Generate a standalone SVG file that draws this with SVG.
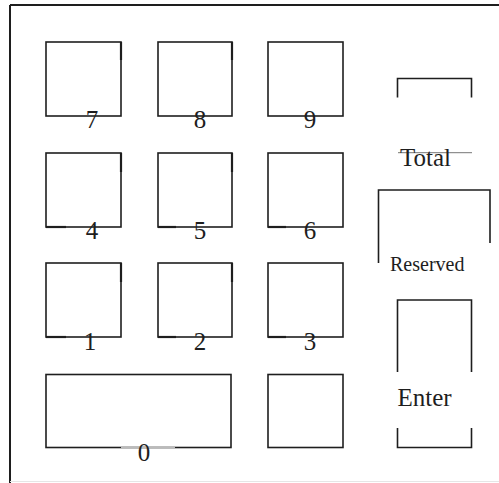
<svg xmlns="http://www.w3.org/2000/svg" width="499" height="483" viewBox="0 0 499 483">
<style>
.k{fill:none;stroke:#1e1e1e;stroke-width:1.6}
.t{fill:none;stroke:#777;stroke-width:1}
.thick{fill:none;stroke:#1e1e1e;stroke-width:2.2}
.lb{font-family:"Liberation Serif","Times New Roman",serif;font-size:25px;fill:#1e1e1e;text-anchor:middle}
.tx{font-family:"Liberation Serif","Times New Roman",serif;font-size:25px;fill:#1e1e1e}
</style>
<rect width="499" height="483" fill="#fff"/>
<g id="frame">
<line x1="10" y1="5" x2="499" y2="5" stroke="#1e1e1e" stroke-width="2"/>
<line x1="10" y1="5" x2="10" y2="483" stroke="#1e1e1e" stroke-width="2"/>
<line x1="10" y1="481.5" x2="499" y2="481.5" stroke="#e6e6e6" stroke-width="1"/>
</g>
<g id="key7"><rect class="k" x="46" y="42" width="75" height="74"/><line class="thick" x1="121" y1="42" x2="121" y2="60"/><text class="lb" x="92" y="128">7</text></g>
<g id="key8"><rect class="k" x="158" y="42" width="74" height="74"/><line class="thick" x1="232" y1="42" x2="232" y2="60"/><text class="lb" x="200" y="128">8</text></g>
<g id="key9"><rect class="k" x="268" y="42" width="75" height="74"/><text class="lb" x="310" y="128">9</text></g>
<g id="key4"><rect class="k" x="46" y="153" width="75" height="74"/><line class="thick" x1="121" y1="153" x2="121" y2="172"/><line class="thick" x1="46" y1="227" x2="66" y2="227"/><text class="lb" x="92" y="239">4</text></g>
<g id="key5"><rect class="k" x="158" y="153" width="74" height="74"/><line class="thick" x1="232" y1="153" x2="232" y2="172"/><line class="thick" x1="158" y1="227" x2="176" y2="227"/><text class="lb" x="200" y="239">5</text></g>
<g id="key6"><rect class="k" x="268" y="153" width="75" height="74"/><line class="thick" x1="268" y1="227" x2="286" y2="227"/><text class="lb" x="310" y="239">6</text></g>
<g id="key1"><rect class="k" x="46" y="263" width="75" height="74"/><line class="thick" x1="121" y1="263" x2="121" y2="282"/><line class="thick" x1="46" y1="337" x2="66" y2="337"/><text class="lb" x="90" y="350">1</text></g>
<g id="key2"><rect class="k" x="158" y="263" width="74" height="74"/><line class="thick" x1="232" y1="263" x2="232" y2="282"/><line class="thick" x1="158" y1="337" x2="176" y2="337"/><text class="lb" x="200" y="350">2</text></g>
<g id="key3"><rect class="k" x="268" y="263" width="75" height="74"/><line class="thick" x1="268" y1="337" x2="286" y2="337"/><text class="lb" x="310" y="350">3</text></g>
<g id="key0"><rect class="k" x="46" y="374.5" width="185" height="73"/><line x1="121" y1="447.5" x2="175" y2="447.5" stroke="#bbb" stroke-width="2"/><text class="lb" x="144" y="461">0</text></g>
<g id="keyblank"><rect class="k" x="268" y="374.5" width="75" height="73"/></g>
<g id="total">
<path class="k" d="M397.5 97.5V78.5H471.5V97.5"/>
<line class="t" x1="398" y1="152.7" x2="472" y2="152.7"/>
<text class="tx" x="400" y="165.5">Total</text>
</g>
<g id="reserved">
<path class="k" d="M378.5 263V190H490V243"/>
<text class="tx" x="390" y="271" style="font-size:20px">Reserved</text>
</g>
<g id="enter">
<path class="k" d="M397.5 372V300H471.5V372"/>
<path class="k" d="M397.5 428V447.5H471.5V428"/>
<text class="tx" x="397.5" y="405.5">Enter</text>
</g>
</svg>
